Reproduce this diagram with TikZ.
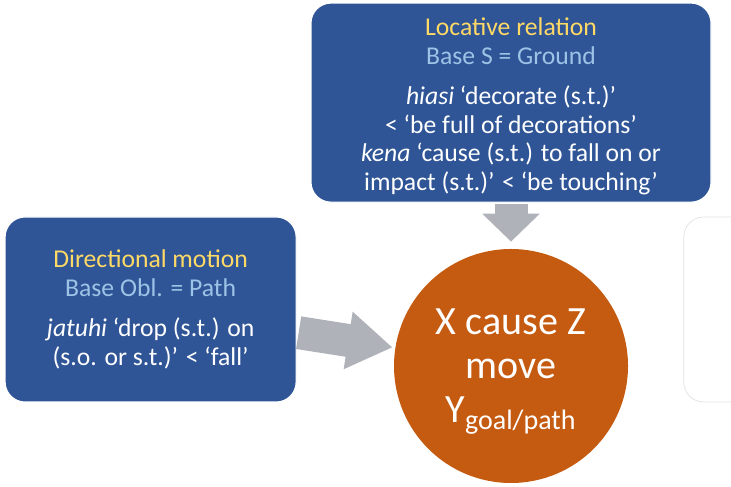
\documentclass[tikz,border=0pt]{standalone}
\usepackage{fontspec}
\setmainfont{Carlito}
\usetikzlibrary{
    arrows.meta,
    positioning
}
\definecolor{panelblue}{HTML}{2F5597}
\definecolor{hubrust}{HTML}{C55A11}
\definecolor{arrowgrey}{HTML}{AFB3B9}
\definecolor{titlegold}{HTML}{FFD966}
\definecolor{subblue}{HTML}{9DC3E6}
\definecolor{ghostline}{HTML}{E2E2E2}

\begin{document}
\begin{tikzpicture}[
    panel/.style={draw=white, line width=0.6pt, fill=panelblue, rounded corners=0.4cm, align=center, text=white, inner sep=4pt, font={\fontsize{14.6pt}{16.3pt}\selectfont}},
    hub/.style={circle, fill=hubrust, text=white, align=center, minimum size=4.68cm, inner sep=0pt, font={\fontsize{22.8pt}{25.2pt}\selectfont}},
    fatarrow/.style={draw=arrowgrey, line width=0.66cm}
]
    \useasboundingbox (0,0) rectangle (14.62,9.74);
    \node[hub] (goal) at (10.22,2.42) {\rule{0pt}{21pt}X cause Z\\move\\Y\textsubscript{goal/path}};
    \node[panel, minimum width=8cm, minimum height=3.98cm] (loc) [above=0.92cm of goal]
        {\rule{0pt}{14.5pt}{\color{titlegold}Locative relation}\\{\color{subblue}Base S = Ground}\\[6.5pt]
         \textit{hiasi} `decorate (s.t.)'\\< `be full of decorations'\\
         \textit{kena} `cause (s.t.) to fall on or\\impact (s.t.)' < `be touching'};
    \node[panel, minimum width=5.82cm, minimum height=3.7cm] (dir) [left=1.94cm of goal, yshift=1.13cm]
        {{\color{titlegold}Directional motion}\\{\color{subblue}Base Obl. = Path}\\[6.5pt]
         \textit{jatuhi} `drop (s.t.) on\\(s.o. or s.t.)' < `fall'};
    \node[draw=ghostline, fill=white, rounded corners=0.4cm, minimum width=5.82cm, minimum height=3.7cm] (next) [right=1.1cm of goal, yshift=1.13cm] {};
    \draw[fatarrow, -{Triangle[width=1.12cm, length=0.56cm]}, shorten <=0.02cm, shorten >=0.14cm] (loc) -- (goal);
    \draw[fatarrow, -{Triangle[width=1.1cm, length=0.9cm]}, shorten <=0.04cm, shorten >=0.05cm] (dir) -- (goal);
\end{tikzpicture}
\end{document}
